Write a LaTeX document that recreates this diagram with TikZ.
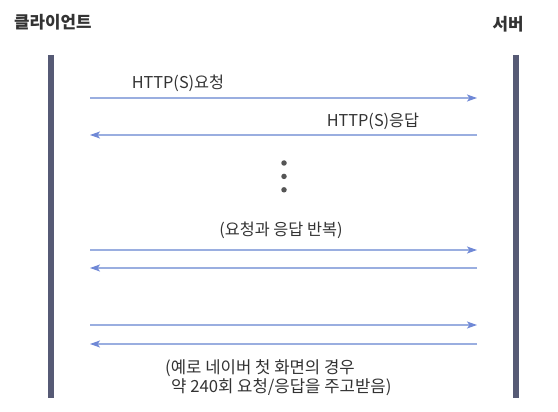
\documentclass[tikz,border=0pt]{standalone}
\usepackage{fontspec}
\setmainfont{Noto Sans CJK KR}
\usetikzlibrary{arrows.meta,positioning}
\definecolor{barcol}{HTML}{565A75}
\definecolor{linecol}{HTML}{9AAEE0}
\definecolor{headcol}{HTML}{6F88D6}
\definecolor{txtcol}{HTML}{333333}
\definecolor{dotcol}{HTML}{555555}

\begin{document}
\begin{tikzpicture}[x=1pt,y=-1pt,
  lifeline/.style={draw=barcol,line width=6pt},
  msg/.style={draw=linecol,line width=1.1pt,-{Stealth[length=10pt,width=7pt,inset=2.5pt,color=headcol]}},
  lbl/.style={text=txtcol,inner sep=0pt,font=\fontsize{16.3}{19}\selectfont},
  title/.style={text=txtcol,inner sep=0pt,font=\bfseries\fontsize{16.8}{18}\selectfont},
  dot/.style={circle,fill=dotcol,inner sep=0pt,minimum size=5.5pt}]

\useasboundingbox (0,0) rectangle (558,412);

\node[title,anchor=west] (cli) at (14,22) {클라이언트};
\node[title] (srv) at (508,24) {서버};

% lifelines
\coordinate (ltop) at (51,55);
\coordinate (lbot) at (51,398);
\coordinate (rtop) at (516,55);
\coordinate (rbot) at (516,398);
\draw[lifeline] (ltop) -- (lbot);
\draw[lifeline] (rtop) -- (rbot);

% ends of the messages
\foreach \n/\y in {1/98,2/135,3/250,4/268,5/325,6/344}{
  \coordinate (c\n) at (90,\y);
  \coordinate (s\n) at (477,\y);
}

\draw[msg] (c1) -- (s1);
\draw[msg] (s2) -- (c2);
\draw[msg] (c3) -- (s3);
\draw[msg] (s4) -- (c4);
\draw[msg] (c5) -- (s5);
\draw[msg] (s6) -- (c6);

\node[lbl] (req) at (178,83) {HTTP(S)요청};
\node[lbl] (res) at (373,121) {HTTP(S)응답};

\node[dot] (d1) at (284,163) {};
\node[dot,below = 7.5pt of d1] (d2) {};
\node[dot,below = 7.5pt of d2] (d3) {};

\node[lbl] (rep) at (281,230) {(요청과 응답 반복)};
\node[lbl,anchor=west,align=left,font=\fontsize{16.7}{19}\selectfont] (note) at (165,378)
  {(예로 네이버 첫 화면의 경우\\\hspace{6pt}약 240회 요청/응답을 주고받음)};

\end{tikzpicture}
\end{document}
